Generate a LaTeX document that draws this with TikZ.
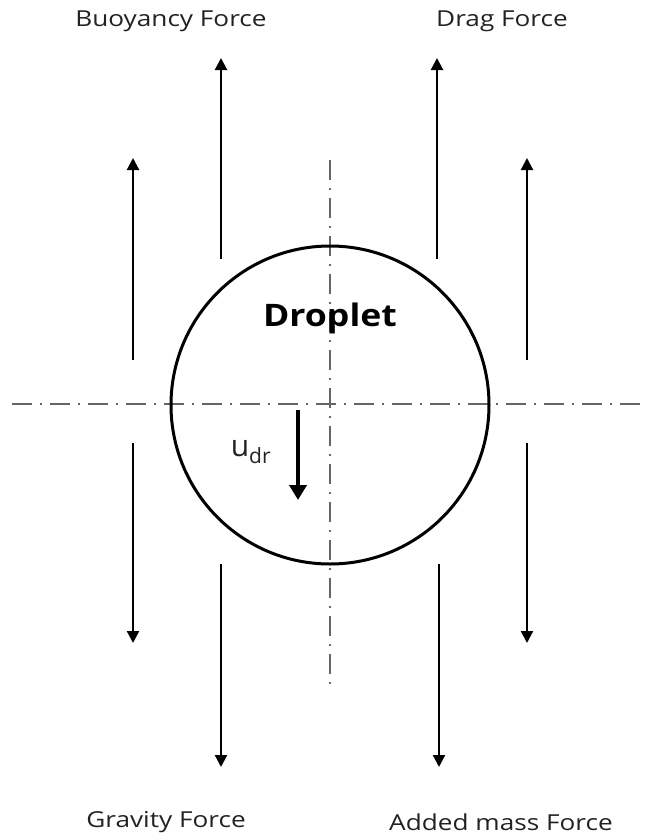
\documentclass[tikz,border=0pt]{standalone}
\usepackage{fontspec}
\setmainfont{Open Sans}
\usetikzlibrary{arrows.meta}
\definecolor{axisgray}{HTML}{666666}
\definecolor{txtgray}{HTML}{222222}
\newcommand{\wideA}[1]{\scalebox{1.19}[1]{#1}}
\begin{document}
\begin{tikzpicture}[x=1pt,y=-1pt,
  force/.style={line width=2.2pt,-{Triangle[width=12pt,length=12pt]}},
  axisline/.style={axisgray,line width=1.3pt,dash pattern=on 20pt off 8pt on 2pt off 8pt},
  lbl/.style={text=txtgray,font=\fontsize{22}{26}\selectfont,inner sep=0pt},
  drop/.style={circle,draw,line width=3pt,minimum size=318pt,inner sep=0pt}]
\useasboundingbox (0,0) rectangle (652,838);
% axes
\coordinate (hl) at (12,404);
\coordinate (hr) at (642,404);
\coordinate (vt) at (330,160);
\coordinate (vb) at (330,690);
\draw[axisline] (hl) -- (hr);
\draw[axisline] (vt) -- (vb);
% droplet
\node[drop] (d) at (330,405) {};
\node[font=\fontsize{31}{36}\selectfont\bfseries,inner sep=0pt] (dt) at (330,318) {\scalebox{1.15}[1]{Droplet}};
% force arrows
\coordinate (b0) at (221,259); \coordinate (b1) at (221,58);
\coordinate (g0) at (437,259); \coordinate (g1) at (437,58);
\coordinate (l0) at (133,360); \coordinate (l1) at (133,158);
\coordinate (r0) at (527,360); \coordinate (r1) at (527,158);
\coordinate (gd0) at (221,564); \coordinate (gd1) at (221,767);
\coordinate (ad0) at (439,564); \coordinate (ad1) at (439,767);
\coordinate (ld0) at (133,443); \coordinate (ld1) at (133,643);
\coordinate (rd0) at (527,443); \coordinate (rd1) at (527,643);
\foreach \p in {b,g,l,r,gd,ad,ld,rd} \draw[force] (\p0) -- (\p1);
% u_dr
\coordinate (u0) at (298,410); \coordinate (u1) at (298,500);
\draw[line width=4pt,-{Triangle[width=17pt,length=15pt]}] (u0) -- (u1);
\node[text=txtgray,font=\fontsize{30}{34}\selectfont,inner sep=0pt] (ut) at (251,452) {u\textsubscript{dr}};
% labels
\node[lbl] (lb) at (171,21) {\wideA{Buoyancy Force}};
\node[lbl] (lg) at (502,21) {\wideA{Drag Force}};
\node[lbl] (lgr) at (166,822) {\wideA{Gravity Force}};
\node[lbl] (la) at (501,822) {\wideA{Added mass Force}};
\end{tikzpicture}
\end{document}
